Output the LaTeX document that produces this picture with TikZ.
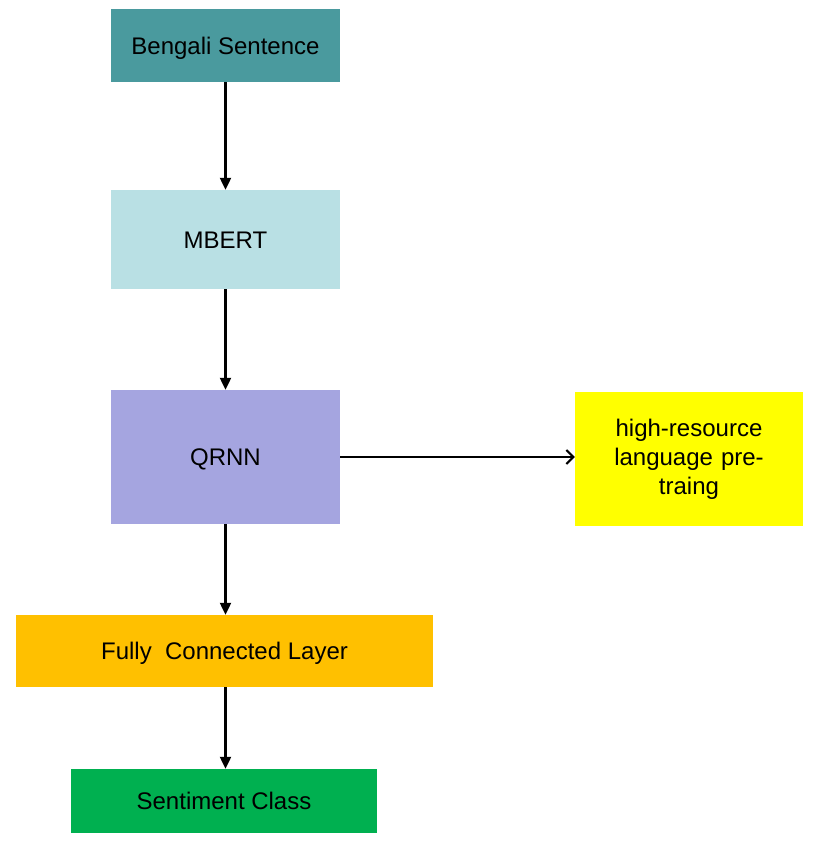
\documentclass[tikz,border=0pt]{standalone}
\usepackage{fontspec}
\setmainfont{Liberation Sans}
\usetikzlibrary{arrows.meta}
\definecolor{cteal}{HTML}{4A9A9E}
\definecolor{clblue}{HTML}{B9E0E4}
\definecolor{cviolet}{HTML}{A5A5E0}
\definecolor{cyell}{HTML}{FFFF00}
\definecolor{corange}{HTML}{FFC000}
\definecolor{cgreen}{HTML}{00B050}
\tikzset{
  box/.style={rectangle, draw=none, inner sep=0pt, align=center,
    font=\fontsize{24}{29}\selectfont},
  one/.style={text height=17pt, text depth=0pt},
  flow/.style={line width=2.2pt, -{Triangle[length=12pt,width=11pt]}},
  side/.style={line width=2pt, -{Straight Barb[length=7pt,width=14pt,line width=2pt]}}
}
\begin{document}
\begin{tikzpicture}[x=1pt,y=-1pt]
\useasboundingbox[fill=white] (0,0) rectangle (824,854);
\node[box, one, fill=cteal, minimum width=229pt, minimum height=73pt] (bs) at (225.5,45.5) {Bengali Sentence};
\node[box, one, fill=clblue, minimum width=229pt, minimum height=99pt] (mb) at (225.5,239.5) {MBERT};
\node[box, one, fill=cviolet, minimum width=229pt, minimum height=134pt] (qr) at (225.5,457) {QRNN};
\node[box, fill=cyell, minimum width=228pt, minimum height=134pt, text width=200pt] (hr) at (689,459) {high-resource\\language pre-\\traing};
\node[box, one, fill=corange, minimum width=417pt, minimum height=72pt] (fc) at (224.5,651) {Fully\ \ Connected Layer};
\node[box, one, fill=cgreen, minimum width=306pt, minimum height=64pt] (sc) at (224,801) {Sentiment Class};
\draw[flow] (bs.south) -- (bs.south |- mb.north);
\draw[flow] (mb.south) -- (mb.south |- qr.north);
\draw[flow] (qr.south) -- (qr.south |- fc.north);
\draw[flow] (qr.south |- fc.south) -- (qr.south |- sc.north);
\draw[side] (qr.east) -- (qr.east -| hr.west);
\end{tikzpicture}
\end{document}
